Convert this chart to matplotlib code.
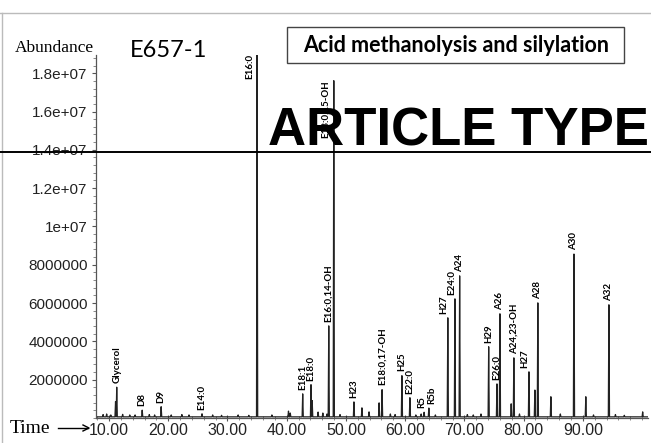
import numpy as np
import matplotlib
matplotlib.use("Agg")
import matplotlib.pyplot as plt
from matplotlib.ticker import FixedLocator, MultipleLocator
from matplotlib.patches import Rectangle
from matplotlib.lines import Line2D

# labelled peaks: retention time (min), abundance
peak_names = ["Glycerol", "D8", "D9", "E14:0", "E16:0", "E18:1", "E18:0",
              "E16:0,14-OH", "E18:0,15-OH", "H23", "E18:0,17-OH", "H25",
              "E22:0", "R5", "R5b", "H27", "E24:0", "A24", "H29", "E26:0",
              "A26", "A24,23-OH", "H27", "A28", "A30", "A32"]
peak_times = [11.3, 15.6, 18.8, 25.7, 35.0, 42.7, 44.1,
              47.1, 47.95, 51.35, 56.1, 59.45,
              60.8, 63.2, 64.0, 67.2, 68.4, 69.2, 74.1, 75.5,
              76.0, 78.35, 80.9, 82.4, 88.5, 94.4]
peak_heights = [1.55e6, 3.5e5, 5.3e5, 1.6e5, 1.95e7, 1.2e6, 1.68e6,
                4.75e6, 1.755e7, 7.8e5, 1.42e6, 2.15e6,
                1.0e6, 2.4e5, 4.6e5, 5.17e6, 6.16e6, 7.36e6, 3.66e6, 1.72e6,
                5.38e6, 3.08e6, 2.35e6, 5.95e6, 8.5e6, 5.85e6]

# small unlabelled peaks
minor_times = [9.0, 9.6, 10.3, 11.1, 12.3, 13.5, 14.4, 16.8, 17.7, 20.5,
               22.3, 23.5, 27.5, 29.0, 31.8, 33.6, 37.5, 40.3, 40.6, 44.3,
               45.3, 46.1, 46.8, 49.0, 52.7, 53.9, 55.6, 57.5, 58.3, 61.8,
               62.7, 65.1, 70.5, 71.5, 72.8, 77.9, 79.3, 81.9, 84.6, 86.2,
               90.5, 91.8, 95.5, 97.0, 100.1]
minor_heights = [1.2e5, 1.5e5, 1.0e5, 8e5, 1.3e5, 1.0e5, 1.0e5, 1.2e5, 1.0e5, 1.0e5,
                 1.2e5, 1.0e5, 1.0e5, 8e4, 1.0e5, 8e4, 1.0e5, 3.0e5, 2.0e5, 8.5e5,
                 2.5e5, 2.0e5, 1.5e5, 1.2e5, 4.7e5, 2.6e5, 7.3e5, 1.5e5, 1.2e5, 1.0e5,
                 1.5e5, 1.0e5, 1.2e5, 1.0e5, 1.5e5, 6.8e5, 1.5e5, 1.4e6, 1.05e6, 1.5e5,
                 1.05e6, 1.0e5, 1.2e5, 8e4, 2.6e5]

y_ticks = [2e6, 4e6, 6e6, 8e6, 1e7, 1.2e7, 1.4e7, 1.6e7, 1.8e7]
y_tick_labels = ["2000000", "4000000", "6000000", "8000000", "1e+07",
                 "1.2e+07", "1.4e+07", "1.6e+07", "1.8e+07"]
x_ticks = [10, 20, 30, 40, 50, 60, 70, 80, 90]
x_tick_labels = ["10.00", "20.00", "30.00", "40.00", "50.00",
                 "60.00", "70.00", "80.00", "90.00"]

baseline = 6e4
half_w = 0.1

# build the trace as a polyline through the peaks
all_t = np.array(peak_times + minor_times)
all_h = np.array(peak_heights + minor_heights)
order = np.argsort(all_t)
tx = [7.8]
ty = [baseline]
for t, h in zip(all_t[order], all_h[order]):
    tx += [t - half_w, t, t + half_w]
    ty += [baseline, baseline + h, baseline]
tx.append(101.0)
ty.append(baseline)

fig = plt.figure(figsize=(6.51, 4.43), dpi=100)
ax = fig.add_axes([96 / 651, 1 - 418 / 443, 552 / 651, 363 / 443])
ax.plot(tx, ty, color="#222222", lw=0.9)
ax.set_xlim(7.8, 101.0)
ax.set_ylim(0, 1.895e7)

for side in ["top", "right"]:
    ax.spines[side].set_visible(False)
for side in ["left", "bottom"]:
    ax.spines[side].set_color("#555555")
    ax.spines[side].set_linewidth(0.9)

ax.yaxis.set_major_locator(FixedLocator(y_ticks))
ax.set_yticklabels(y_tick_labels)
ax.yaxis.set_minor_locator(MultipleLocator(4e5))
ax.xaxis.set_major_locator(FixedLocator(x_ticks))
ax.set_xticklabels(x_tick_labels)
ax.xaxis.set_minor_locator(MultipleLocator(2))
ax.tick_params(axis="y", which="major", direction="out", length=3, pad=3,
               labelsize=11, colors="#555555", labelcolor="#222222")
ax.tick_params(axis="y", which="minor", direction="out", length=2, colors="#777777")
ax.tick_params(axis="x", which="major", direction="inout", length=5, pad=1,
               labelsize=11.5, colors="#555555", labelcolor="#222222")
ax.tick_params(axis="x", which="minor", direction="inout", length=3, colors="#777777")
for lab in ax.get_xticklabels() + ax.get_yticklabels():
    lab.set_family(["Liberation Sans", "DejaVu Sans"])

# peak labels
label_font = ["Lato", "DejaVu Sans"]
side_labels = {"E16:0": -2, "E18:0,15-OH": -3}
shift = {"H27": -3, "E24:0": -2, "R5": -2, "R5b": 2}
ymax = ax.get_ylim()[1]
for name, t, h in zip(peak_names, peak_times, peak_heights):
    if name in side_labels:
        ax.annotate(name, (t, min(h, ymax)), xytext=(side_labels[name], 1),
                    textcoords="offset points", rotation=90, ha="right", va="top",
                    fontsize=7, fontweight="bold", family=label_font)
    else:
        ax.annotate(name, (t, h + baseline), xytext=(shift.get(name, 0), 3),
                    textcoords="offset points", rotation=90, ha="center", va="bottom",
                    fontsize=7, fontweight="bold", family=label_font)

# page decorations
fig.add_artist(Line2D([0, 1], [1 - 13 / 443] * 2, color="#bbbbbb", lw=1))
fig.add_artist(Line2D([2 / 651] * 2, [0, 1 - 13 / 443], color="#bbbbbb", lw=1))
fig.text(15 / 651, 1 - 52 / 443, "Abundance", family=["Liberation Serif"],
         fontsize=12.5, va="baseline")
fig.text(130 / 651, 1 - 57 / 443, "E657-1", family=["Lato", "DejaVu Sans"],
         fontsize=17, va="baseline")
fig.add_artist(Rectangle((287 / 651, 1 - 63 / 443), 337 / 651, 36 / 443,
                         fill=False, edgecolor="#444444", lw=1))
fig.text(456 / 651, 1 - 45 / 443, "Acid methanolysis and silylation",
         family=["Lato", "DejaVu Sans"], fontweight="bold", fontsize=15.5,
         ha="center", va="center")
fig.text(268 / 651, 1 - 145 / 443, "ARTICLE TYPE", family=["Liberation Sans"],
         fontweight="bold", fontsize=38, va="baseline", zorder=10)
fig.add_artist(Line2D([0, 1], [1 - 152 / 443] * 2, color="black", lw=1.4))
fig.text(10 / 651, 1 - 433 / 443, "Time", family=["Liberation Serif"],
         fontsize=14, va="baseline")
fig.add_artist(Line2D([58 / 651, 88 / 651], [1 - 428 / 443] * 2, color="black", lw=1))
fig.add_artist(Line2D([83 / 651, 89 / 651, 83 / 651],
                      [1 - 425 / 443, 1 - 428 / 443, 1 - 431 / 443], color="black", lw=1))

fig.savefig("out.png", dpi=100)
